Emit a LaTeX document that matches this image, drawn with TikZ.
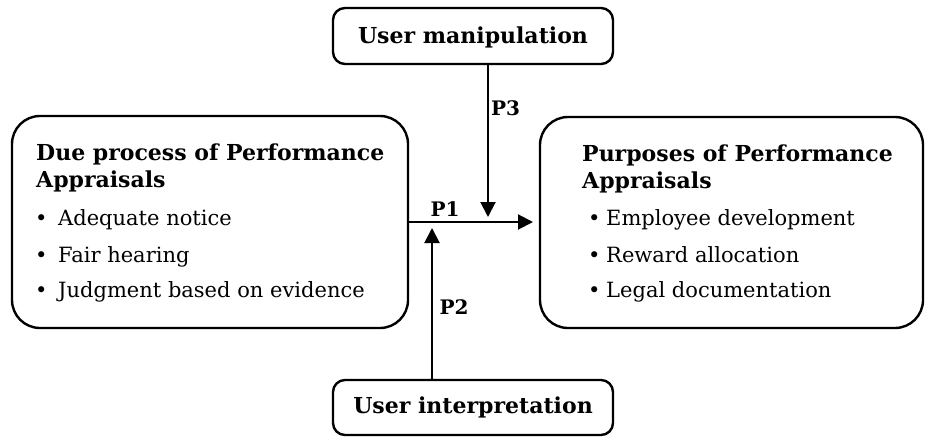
\documentclass[tikz,border=0pt]{standalone}
\usepackage{fontspec}
\setmainfont{DejaVu Serif}
\usetikzlibrary{arrows.meta}
\begin{document}
\begin{tikzpicture}[x=1pt,y=-1pt,
  box/.style={draw=black,line width=2.4pt,rounded corners=#1,inner sep=0pt},
  box/.default=28pt,
  txt/.style={inner sep=0pt,anchor=base west,font=\fontsize{21}{21}\selectfont},
  head/.style={inner sep=0pt,anchor=base west,font=\fontsize{22}{22}\selectfont\bfseries},
  lab/.style={inner sep=0pt,font=\fontsize{20}{20}\selectfont\bfseries},
  title/.style={inner sep=0pt,anchor=base,font=\fontsize{22}{22}\selectfont\bfseries},
  conn/.style={line width=2pt,-{Triangle[length=15pt,width=15pt]}}]
\useasboundingbox (0,0) rectangle (925,436);
% boxes
\node[box,minimum width=396pt,minimum height=212pt] (L) at (210,222) {};
\node[box,minimum width=383pt,minimum height=211pt] (R) at (731.5,222.5) {};
\node[box=12pt,minimum width=280pt,minimum height=56pt] (T) at (473,36) {};
\node[box=12pt,minimum width=280pt,minimum height=55pt] (B) at (473,407.5) {};
% left texts
\node[head] (l1) at (36,160) {Due process of Performance};
\node[head] (l2) at (36,187) {Appraisals};
\node[txt] (l3) at (35,225) {\makebox[23pt][l]{\textbullet}Adequate notice};
\node[txt] (l4) at (35,262) {\makebox[23pt][l]{\textbullet}Fair hearing};
\node[txt] (l5) at (35,297) {\makebox[23pt][l]{\textbullet}Judgment based on evidence};
% right texts
\node[head] (r1) at (582,161) {Purposes of Performance};
\node[head] (r2) at (582,188) {Appraisals};
\node[txt] (r3) at (588,225) {\makebox[18pt][l]{\textbullet}Employee development};
\node[txt] (r4) at (588,262) {\makebox[18pt][l]{\textbullet}Reward allocation};
\node[txt] (r5) at (588,297) {\makebox[18pt][l]{\textbullet}Legal documentation};
% top / bottom texts
\node[title] (t1) at (473,44) {User manipulation};
\node[title] (b1) at (473,413) {User interpretation};
% connectors
\coordinate (p1end) at (533,222);
\coordinate (p3end) at (488,217);
\coordinate (p2end) at (432,228);
\draw[conn] (L.east |- p1end) -- (p1end);
\draw[conn] (T.south -| p3end) -- (p3end);
\draw[conn] (B.north -| p2end) -- (p2end);
% labels
\node[lab] (P3) at (505.5,108) {P3};
\node[lab] (P1) at (445,209.5) {P1};
\node[lab] (P2) at (454,307.5) {P2};
\end{tikzpicture}
\end{document}
